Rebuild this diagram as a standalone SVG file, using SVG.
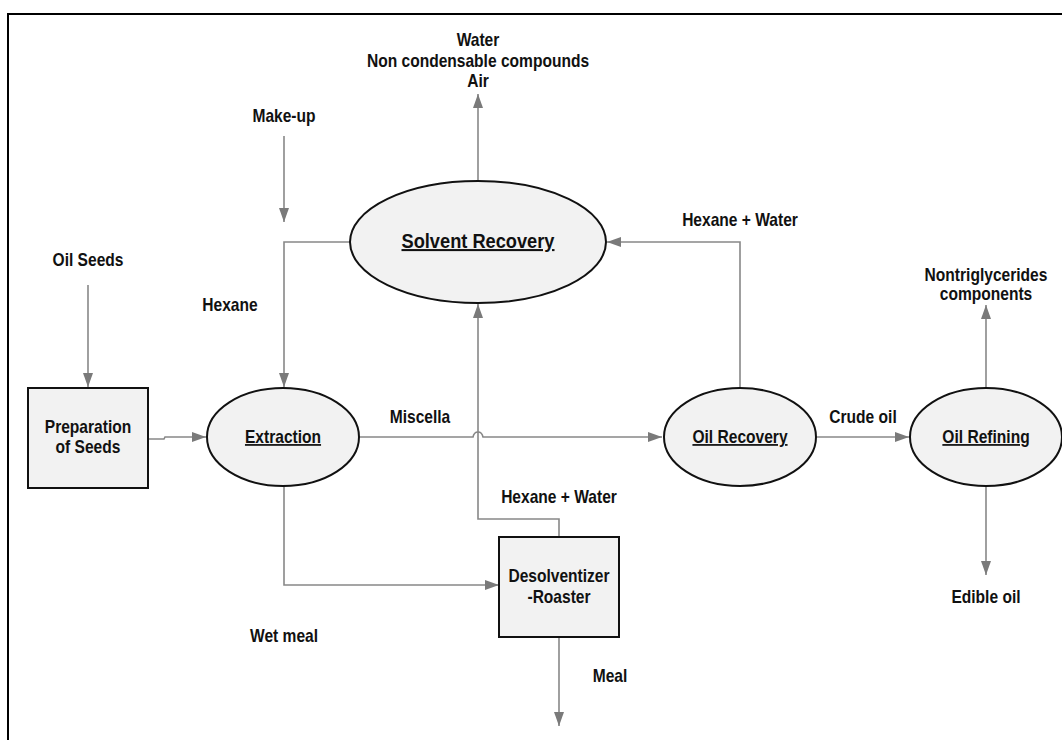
<svg xmlns="http://www.w3.org/2000/svg" width="1062" height="740" viewBox="0 0 1062 740">
<style>
.node{fill:#f2f2f2;stroke:#111;stroke-width:2}
.c{fill:none;stroke:#888;stroke-width:1.6}
text{font-family:"Liberation Sans",Arial,sans-serif;font-weight:bold;font-size:17.5px;fill:#111;text-anchor:middle}
.u{text-decoration:underline}
</style>
<defs>
<marker id="a" markerUnits="userSpaceOnUse" markerWidth="15" markerHeight="11" refX="14" refY="5" orient="auto">
<path d="M0,0 L14,5 L0,10 z" fill="#7a7a7a"/>
</marker>
</defs>
<rect width="1062" height="740" fill="#fff"/>
<path d="M8,740 L8,14 L1062,14" fill="none" stroke="#000" stroke-width="2"/>
<g id="connectors">
<path class="c" d="M88,285 L88,387" marker-end="url(#a)"/>
<path class="c" d="M148,439 L164,439 L165,437 L206,437" marker-end="url(#a)"/>
<path class="c" d="M284,136 L284,222" marker-end="url(#a)"/>
<path class="c" d="M350,242 L284,242 L284,387" marker-end="url(#a)"/>
<path class="c" d="M478,180 L478,94" marker-end="url(#a)"/>
<path class="c" d="M740,387 L740,242 L607,242" marker-end="url(#a)"/>
<path class="c" d="M359,437 L473,437 Q474,432 478,432 Q482,432 483,437 L662,437" marker-end="url(#a)"/>
<path class="c" d="M559,537 L559,519 L478,519 L478,304" marker-end="url(#a)"/>
<path class="c" d="M284,486 L284,585 L499,585" marker-end="url(#a)"/>
<path class="c" d="M559,637 L559,726" marker-end="url(#a)"/>
<path class="c" d="M816,437 L909,437" marker-end="url(#a)"/>
<path class="c" d="M986,387 L986,305" marker-end="url(#a)"/>
<path class="c" d="M986,487 L986,575" marker-end="url(#a)"/>
</g>
<g id="prep">
<rect class="node" x="28" y="388" width="120" height="100"/>
<text transform="translate(88,433) scale(0.89,1)">Preparation</text>
<text transform="translate(88,453) scale(0.89,1)">of Seeds</text>
</g>
<g id="extraction">
<ellipse class="node" cx="283" cy="437" rx="76" ry="49"/>
<text class="u" transform="translate(283,443) scale(0.89,1)">Extraction</text>
</g>
<g id="solvent">
<ellipse class="node" cx="478" cy="242" rx="128" ry="61"/>
<text class="u" transform="translate(478,248) scale(0.89,1)" style="font-size:20.5px">Solvent Recovery</text>
</g>
<g id="oilrecovery">
<ellipse class="node" cx="740" cy="437" rx="76" ry="49"/>
<text class="u" transform="translate(740,443) scale(0.89,1)">Oil Recovery</text>
</g>
<g id="oilrefining">
<ellipse class="node" cx="986" cy="437" rx="76" ry="49"/>
<text class="u" transform="translate(986,443) scale(0.89,1)">Oil Refining</text>
</g>
<g id="desolventizer">
<rect class="node" x="499" y="537" width="120" height="100"/>
<text transform="translate(559,582) scale(0.89,1)">Desolventizer</text>
<text transform="translate(559,603) scale(0.89,1)">-Roaster</text>
</g>
<g id="labels">
<text transform="translate(478,46) scale(0.89,1)">Water</text>
<text transform="translate(478,67) scale(0.89,1)">Non condensable compounds</text>
<text transform="translate(478,87) scale(0.89,1)">Air</text>
<text transform="translate(284,122) scale(0.89,1)">Make-up</text>
<text transform="translate(88,266) scale(0.89,1)">Oil Seeds</text>
<text transform="translate(230,311) scale(0.89,1)">Hexane</text>
<text transform="translate(740,226) scale(0.89,1)">Hexane + Water</text>
<text transform="translate(420,423) scale(0.89,1)">Miscella</text>
<text transform="translate(863,423) scale(0.89,1)">Crude oil</text>
<text transform="translate(559,503) scale(0.89,1)">Hexane + Water</text>
<text transform="translate(284,642) scale(0.89,1)">Wet meal</text>
<text transform="translate(610,682) scale(0.89,1)">Meal</text>
<text transform="translate(986,281) scale(0.89,1)">Nontriglycerides</text>
<text transform="translate(986,300) scale(0.89,1)">components</text>
<text transform="translate(986,603) scale(0.89,1)">Edible oil</text>
</g>
</svg>
